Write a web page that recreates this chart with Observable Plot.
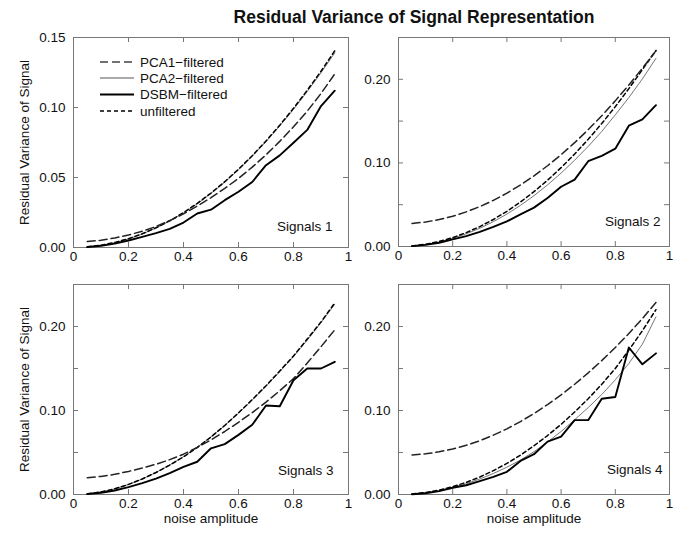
<!DOCTYPE html>
<html>
<head>
<meta charset="utf-8">
<script src="https://cdn.jsdelivr.net/npm/d3@7"></script>
<script src="https://cdn.jsdelivr.net/npm/@observablehq/plot@0.6"></script>
<style>
  body { margin: 0; background: #fff; }
  #chart { position: relative; width: 681px; height: 535px; font-family: "Liberation Sans", Arial, sans-serif; color: #111; }
  #title { position: absolute; left: 164px; width: 500px; top: 7px; line-height: 21px; font-size: 17.5px; font-weight: bold; text-align: center; }
</style>
</head>
<body>
<div id="chart"><div id="title">Residual Variance of Signal Representation</div></div>
<script>
// ---------- data ----------
const noise = [0.05,0.10,0.15,0.20,0.25,0.30,0.35,0.40,0.45,0.50,0.55,0.60,0.65,0.70,0.75,0.80,0.85,0.90,0.95];
const seriesNames = ["PCA1\u2212filtered", "PCA2\u2212filtered", "DSBM\u2212filtered", "unfiltered"];
const panelLabels = ["Signals 1", "Signals 2", "Signals 3", "Signals 4"];
const xTicks = [0, 0.2, 0.4, 0.6, 0.8, 1];
const yTicksSmall = [0, 0.05, 0.10, 0.15];
const yTicksLarge = [0, 0.05, 0.10, 0.15, 0.20, 0.25];
const yLabelsLarge = [0, 0.10, 0.20];

// Signals 1
const s1_pca1 = [0.0042,0.0052,0.0068,0.0089,0.0116,0.0150,0.0192,0.0240,0.0296,0.0356,0.0422,0.0494,0.0574,0.0662,0.0758,0.0862,0.0974,0.1100,0.1240];
const s1_pca2 = [0.0004,0.0015,0.0034,0.0061,0.0096,0.0139,0.0189,0.0246,0.0312,0.0386,0.0466,0.0555,0.0652,0.0756,0.0868,0.0987,0.1114,0.1248,0.1390];
const s1_dsbm = [0.0003,0.0012,0.0028,0.0050,0.0076,0.0103,0.0133,0.0178,0.0243,0.0270,0.0338,0.0398,0.0468,0.0588,0.0658,0.0748,0.0840,0.1010,0.1120];
const s1_unf  = [0.0005,0.0016,0.0036,0.0063,0.0098,0.0141,0.0191,0.0249,0.0315,0.0389,0.0470,0.0559,0.0656,0.0761,0.0874,0.0994,0.1123,0.1259,0.1405];
// Signals 2
const s2_pca1 = [0.0276,0.0293,0.0322,0.0362,0.0414,0.0477,0.0552,0.0638,0.0736,0.0845,0.0966,0.1098,0.1242,0.1397,0.1564,0.1742,0.1932,0.2133,0.2340];
const s2_pca2 = [0.0006,0.0024,0.0054,0.0097,0.0152,0.0218,0.0297,0.0388,0.0492,0.0608,0.0737,0.0878,0.1032,0.1198,0.1376,0.1575,0.1782,0.2005,0.2250];
const s2_dsbm = [0.0005,0.0020,0.0045,0.0085,0.0125,0.0175,0.0235,0.0300,0.0385,0.0465,0.0580,0.0715,0.0800,0.1020,0.1085,0.1170,0.1445,0.1520,0.1690];
const s2_unf  = [0.0007,0.0027,0.0060,0.0106,0.0166,0.0238,0.0323,0.0421,0.0532,0.0656,0.0793,0.0943,0.1106,0.1282,0.1471,0.1673,0.1888,0.2116,0.2345];
// Signals 3
const s3_pca1 = [0.0200,0.0215,0.0240,0.0275,0.0315,0.0360,0.0415,0.0480,0.0560,0.0650,0.0750,0.0860,0.0975,0.1100,0.1235,0.1380,0.1565,0.1760,0.1960];
const s3_pca2 = [0.0008,0.0030,0.0067,0.0119,0.0184,0.0262,0.0352,0.0450,0.0562,0.0686,0.0820,0.0968,0.1125,0.1288,0.1462,0.1642,0.1838,0.2045,0.2265];
const s3_dsbm = [0.0004,0.0020,0.0048,0.0088,0.0135,0.0190,0.0255,0.0330,0.0390,0.0550,0.0600,0.0710,0.0830,0.1060,0.1050,0.1360,0.1500,0.1500,0.1580];
const s3_unf  = [0.0008,0.0030,0.0068,0.0120,0.0185,0.0262,0.0350,0.0448,0.0560,0.0685,0.0822,0.0972,0.1130,0.1295,0.1470,0.1650,0.1850,0.2055,0.2280];
// Signals 4
const s4_pca1 = [0.0470,0.0484,0.0508,0.0542,0.0586,0.0640,0.0706,0.0782,0.0868,0.0964,0.1070,0.1186,0.1312,0.1448,0.1594,0.1750,0.1916,0.2095,0.2285];
const s4_pca2 = [0.0005,0.0020,0.0045,0.0082,0.0128,0.0185,0.0250,0.0325,0.0410,0.0510,0.0625,0.0750,0.0890,0.1035,0.1190,0.1365,0.1560,0.1790,0.2115];
const s4_dsbm = [0.0003,0.0015,0.0040,0.0080,0.0110,0.0160,0.0210,0.0270,0.0400,0.0480,0.0630,0.0690,0.0885,0.0885,0.1140,0.1160,0.1750,0.1550,0.1680];
const s4_unf  = [0.0006,0.0023,0.0052,0.0092,0.0145,0.0208,0.0284,0.0370,0.0468,0.0580,0.0702,0.0835,0.0982,0.1140,0.1312,0.1500,0.1718,0.1950,0.2200];

const yAxisTitle = "Residual Variance of Signal";
const xAxisTitle = "noise amplitude";

// ---------- styles & layout ----------
const seriesStyle = [
  {stroke: "#222", strokeWidth: 1.5, strokeDasharray: "8,4"},
  {stroke: "#666", strokeWidth: 0.9},
  {stroke: "#000", strokeWidth: 1.9},
  {stroke: "#000", strokeWidth: 1.5, strokeDasharray: "4,3"}
];
const legendStyle = [
  {stroke: "#444", width: 1.6, dash: "8,4"},
  {stroke: "#aaa", width: 2},
  {stroke: "#000", width: 2.2},
  {stroke: "#000", width: 1.6, dash: "4,3"}
];
const drawOrder = [1, 3, 0, 2];

const panels = [
  {values: [s1_pca1, s1_pca2, s1_dsbm, s1_unf], yMax: 0.15, yTicks: yTicksSmall, yLabels: yTicksSmall,
   left: 0, top: 0, width: 350, height: 262, ml: 73, mr: 2, mt: 37, mb: 15, yTitle: true, xTitle: false, ldx: -16, ldy: -17, legend: true},
  {values: [s2_pca1, s2_pca2, s2_dsbm, s2_unf], yMax: 0.25, yTicks: yTicksLarge, yLabels: yLabelsLarge,
   left: 350, top: 0, width: 331, height: 262, ml: 48, mr: 12, mt: 37, mb: 16, yTitle: false, xTitle: false, ldx: -9, ldy: -21},
  {values: [s3_pca1, s3_pca2, s3_dsbm, s3_unf], yMax: 0.25, yTicks: yTicksLarge, yLabels: yLabelsLarge,
   left: 0, top: 262, width: 350, height: 273, ml: 73, mr: 2, mt: 22, mb: 41, yTitle: true, xTitle: true, ldx: -15, ldy: -20},
  {values: [s4_pca1, s4_pca2, s4_dsbm, s4_unf], yMax: 0.25, yTicks: yTicksLarge, yLabels: yLabelsLarge,
   left: 350, top: 262, width: 331, height: 273, ml: 48, mr: 12, mt: 22, mb: 41, yTitle: false, xTitle: true, ldx: -7, ldy: -21}
];

const chart = document.getElementById("chart");
const frameColor = "#777";

panels.forEach((p, pi) => {
  const pw = p.width - p.ml - p.mr;
  const ph = p.height - p.mt - p.mb;
  const rows = [];
  seriesNames.forEach((name, k) => p.values[k].forEach((v, i) => rows.push({x: noise[i], y: v, s: k})));

  const marks = [
    Plot.frame({stroke: frameColor, strokeWidth: 1}),
    Plot.tickX(xTicks, {x: d => d, insetTop: ph - 5, stroke: frameColor}),
    Plot.tickX(xTicks, {x: d => d, insetBottom: ph - 5, stroke: frameColor}),
    Plot.tickY(p.yTicks, {y: d => d, insetRight: pw - 5, stroke: frameColor}),
    Plot.tickY(p.yTicks, {y: d => d, insetLeft: pw - 5, stroke: frameColor}),
    Plot.axisX(xTicks, {tickSize: 0, tickPadding: 4, tickFormat: d => String(d), label: null}),
    Plot.axisY(p.yLabels, {tickSize: 0, tickPadding: 8, tickFormat: d3.format(".2f"), label: null})
  ];
  drawOrder.forEach(k => {
    marks.push(Plot.line(rows.filter(r => r.s === k), {x: "x", y: "y", ...seriesStyle[k], strokeLinejoin: "round"}));
  });
  marks.push(Plot.text([panelLabels[pi]], {frameAnchor: "bottom-right", dx: p.ldx, dy: p.ldy, textAnchor: "end", fontSize: 13.5}));
  if (p.yTitle) marks.push(Plot.text([yAxisTitle], {frameAnchor: "left", dx: -49, rotate: -90, textAnchor: "middle", fontSize: 13.5}));
  if (p.xTitle) marks.push(Plot.text([xAxisTitle], {frameAnchor: "bottom", dy: 28, textAnchor: "middle", fontSize: 13.5}));

  const svg = Plot.plot({
    width: p.width, height: p.height,
    marginLeft: p.ml, marginRight: p.mr, marginTop: p.mt, marginBottom: p.mb,
    x: {domain: [0, 1]},
    y: {domain: [0, p.yMax]},
    style: {background: "none", overflow: "visible", fontFamily: "'Liberation Sans', Arial, sans-serif", fontSize: "13.5px", color: "#111"},
    marks
  });
  svg.style.position = "absolute";
  svg.style.left = p.left + "px";
  svg.style.top = p.top + "px";

  if (p.legend) {
    const g = d3.select(svg).append("g").attr("class", "legend").attr("text-anchor", "start");
    const rowY = [62, 78, 94.5, 111];
    seriesNames.forEach((name, k) => {
      const st = legendStyle[k];
      g.append("line").attr("x1", 100).attr("x2", 134).attr("y1", rowY[k]).attr("y2", rowY[k])
        .attr("stroke", st.stroke).attr("stroke-width", st.width).attr("stroke-dasharray", st.dash || null);
      g.append("text").attr("x", 140).attr("y", rowY[k]).attr("dy", "0.35em").attr("text-anchor", "start")
        .attr("font-size", 13.5).attr("fill", "#111").text(name);
    });
  }
  chart.appendChild(svg);
});
</script>
</body>
</html>
